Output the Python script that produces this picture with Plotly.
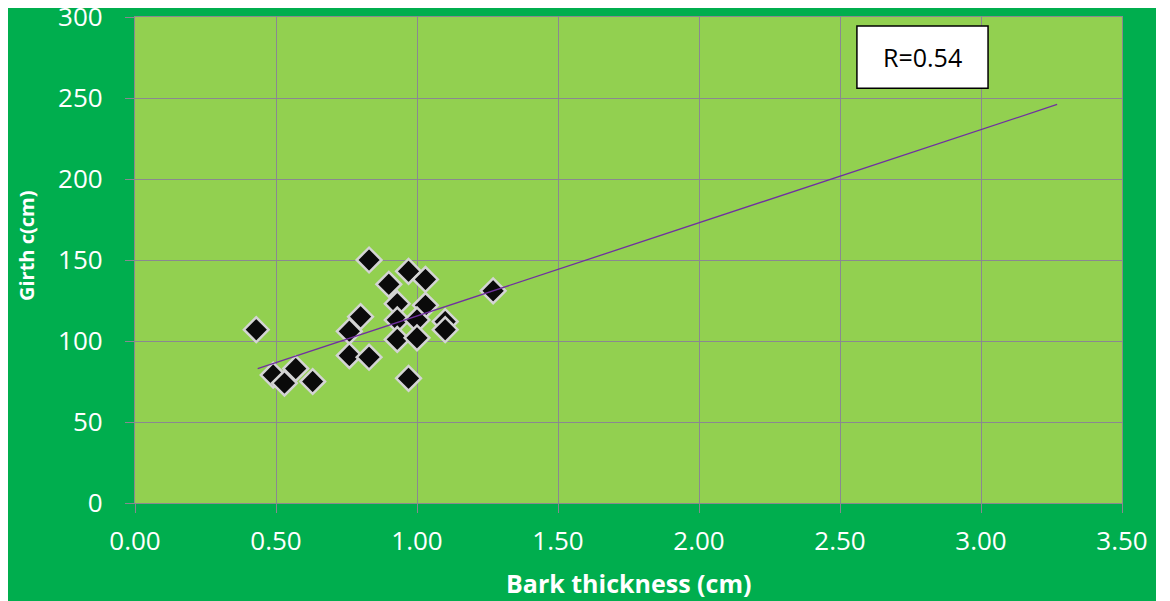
import plotly.graph_objects as go

# bark thickness (cm) vs girth (cm)
bark = [0.43, 0.83, 0.97, 1.03, 0.90, 1.27, 0.93, 1.03, 0.80, 0.93, 1.00, 1.10,
        1.10, 0.76, 0.93, 1.00, 0.76, 0.83, 0.57, 0.49, 0.53, 0.63, 0.97]
girth = [107, 150, 143, 138, 135, 131, 123, 122, 115, 113, 113, 112,
         107, 106, 101, 102, 91, 90, 83, 79, 74, 75, 77]

# linear trend line end points
trend_x = [0.435, 3.27]
trend_y = [83, 246]

x_ticks = [0, 0.5, 1, 1.5, 2, 2.5, 3, 3.5]
y_ticks = [0, 50, 100, 150, 200, 250, 300]

DARK_GREEN = "#00AE4E"
LIGHT_GREEN = "#92D050"
GRID = "#8a8890"
FONT = "Open Sans"

fig = go.Figure()

fig.add_trace(go.Scatter(
    x=bark, y=girth, mode="markers",
    marker=dict(symbol="diamond", size=19, color="#0a0a0a",
                line=dict(color="#d4d4d4", width=2.5)),
    showlegend=False,
))

fig.add_trace(go.Scatter(
    x=trend_x, y=trend_y, mode="lines",
    line=dict(color="#7030A0", width=1.3),
    showlegend=False,
))

axis_common = dict(
    showgrid=True, gridcolor=GRID, gridwidth=1.3,
    showline=True, linecolor=GRID, linewidth=1.3, mirror=True,
    ticks="outside", ticklen=9, tickcolor=GRID, tickwidth=1.3,
    tickfont=dict(family=FONT, size=26, color="white"),
    ticklabeloverflow="allow", automargin=False,
    zeroline=False,
)

fig.update_xaxes(range=[0, 3.5], tickvals=x_ticks, tickformat=".2f",
                 ticklabelstandoff=6, **axis_common)
fig.update_yaxes(range=[0, 300], tickvals=y_ticks,
                 ticklabelstandoff=17, **axis_common)

# axis titles
fig.add_annotation(x=0.5, y=-0.1646, xref="paper", yref="paper", showarrow=False,
                   xanchor="center", yanchor="middle",
                   text="<b>Bark thickness (cm)</b>",
                   font=dict(family=FONT, size=25, color="white"))
fig.add_annotation(x=-0.1104, y=0.5288, xref="paper", yref="paper", showarrow=False,
                   xanchor="center", yanchor="middle",
                   text="<b>Girth c(cm)</b>", textangle=-90,
                   font=dict(family=FONT, size=20, color="white"))

# R value box
fig.add_shape(type="rect", xref="x", yref="y", x0=2.56, x1=3.025, y0=256, y1=294.5,
              fillcolor="white", line=dict(color="black", width=1.5), layer="above")
fig.add_annotation(x=2.7925, y=275.2, xref="x", yref="y", text="R=0.54", showarrow=False,
                   font=dict(family=FONT, size=25, color="black"))

fig.update_layout(
    width=1148, height=610,
    margin=dict(l=127, r=34, t=9, b=115),
    paper_bgcolor=DARK_GREEN, plot_bgcolor=LIGHT_GREEN,
    font=dict(family=FONT, color="white"),
)

fig.write_html("out.html")
